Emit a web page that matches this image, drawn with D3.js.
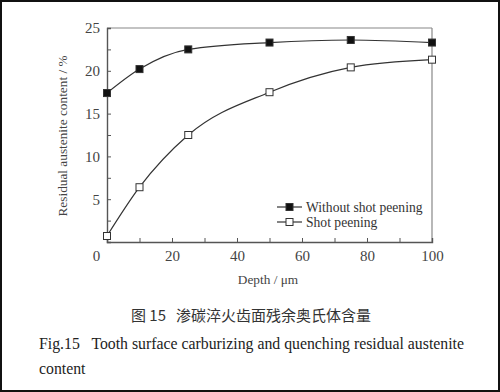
<!DOCTYPE html>
<html><head><meta charset="utf-8">
<script src="https://cdn.jsdelivr.net/npm/d3@7"></script>
<style>body{margin:0;background:#fff}svg{display:block}</style>
</head><body>
<script>
const depth = [0, 10, 25, 50, 75, 100];
const withoutShot = [17.4, 20.2, 22.5, 23.3, 23.6, 23.3];
const shotPeening = [0.7, 6.4, 12.5, 17.5, 20.4, 21.3];
const xTicks = [0, 20, 40, 60, 80, 100];
const yTicks = [5, 10, 15, 20, 25];
const seriesNames = ["Without shot peening", "Shot peening"];

const W = 500, H = 392;
const svg = d3.select("body").append("svg").attr("width", W).attr("height", H);
svg.append("rect").attr("x",1).attr("y",1).attr("width",W-2).attr("height",H-2)
  .attr("fill","#fff").attr("stroke","#111").attr("stroke-width",2);

const L = 107, R = 432, T = 28, B = 242;
const x = d3.scaleLinear().domain([0,100]).range([L,R]);
const y = d3.scaleLinear().domain([0,25]).range([B,T]);
const serif = "'Liberation Serif','Times New Roman',serif";

// frame top/right
svg.append("line").attr("x1",L).attr("x2",R).attr("y1",T).attr("y2",T).attr("stroke","#888").attr("stroke-width",1.2);
svg.append("line").attr("x1",R).attr("x2",R).attr("y1",T).attr("y2",B).attr("stroke","#888").attr("stroke-width",1.2);

// x axis
const xAxis = svg.append("g").attr("transform",`translate(0,${B})`)
  .call(d3.axisBottom(x).tickValues(d3.range(0,101,10)).tickSize(-4).tickFormat(d => xTicks.includes(d) ? d : ""));
xAxis.select(".domain").attr("stroke","#555").attr("stroke-width",1.4);
xAxis.selectAll(".tick line").attr("stroke","#555");
xAxis.selectAll(".tick text").attr("font-family",serif).attr("font-size",15).attr("fill","#444").attr("dy","1.05em")
  .attr("dx", d => d === 0 ? -11 : 0);

// y axis
const yAxis = svg.append("g").attr("transform",`translate(${L},0)`)
  .call(d3.axisLeft(y).tickValues(d3.range(0,25.1,2.5)).tickSize(-4).tickPadding(7).tickFormat(d => yTicks.includes(d) ? d : ""));
yAxis.select(".domain").attr("stroke","#555").attr("stroke-width",1.4);
yAxis.selectAll(".tick line").attr("stroke","#555");
yAxis.selectAll(".tick text").attr("font-family",serif).attr("font-size",15).attr("fill","#444");

// axis titles
svg.append("text").attr("transform",`translate(67,${(T+B)/2 + 1}) rotate(-90)`)
  .attr("text-anchor","middle").attr("font-family",serif).attr("font-size",13.3).attr("fill","#444")
  .text("Residual austenite content / %");
svg.append("text").attr("x",268).attr("y",284).attr("text-anchor","middle")
  .attr("font-family",serif).attr("font-size",13.3).attr("fill","#444").text("Depth / μm");

// lines
const line = d3.line().x(d => x(d[0])).y(d => y(d[1])).curve(d3.curveMonotoneX);
const series = [withoutShot, shotPeening];
series.forEach((vals, i) => {
  const pts = depth.map((d, j) => [d, vals[j]]);
  svg.append("path").attr("d", line(pts)).attr("fill","none").attr("stroke","#333").attr("stroke-width",1.2);
  svg.selectAll(null).data(pts).enter().append("rect")
    .attr("x", d => x(d[0]) - 3.5).attr("y", d => y(d[1]) - 3.5).attr("width",7).attr("height",7)
    .attr("fill", i === 0 ? "#111" : "#fff").attr("stroke","#333").attr("stroke-width",1);
});

// legend
seriesNames.forEach((name, i) => {
  const ly = 207 + i*15;
  svg.append("line").attr("x1",277).attr("x2",302).attr("y1",ly).attr("y2",ly).attr("stroke","#333").attr("stroke-width",1.2);
  svg.append("rect").attr("x",286).attr("y",ly-3.5).attr("width",7).attr("height",7)
    .attr("fill", i === 0 ? "#111" : "#fff").attr("stroke","#333");
  svg.append("text").attr("x",306).attr("y",ly+4.5).attr("font-family",serif).attr("font-size",13.6).attr("fill","#333").text(name);
});

// captions
svg.append("text").attr("x",251).attr("y",321).attr("text-anchor","middle")
  .attr("font-family","'Noto Sans CJK SC',serif").attr("font-size",15).attr("fill","#333")
  .attr("xml:space","preserve").text("图 15   渗碳淬火齿面残余奥氏体含量");
svg.append("text").attr("x",39).attr("y",349).attr("font-family",serif).attr("font-size",15.8).attr("fill","#222")
  .attr("xml:space","preserve").text("Fig.15   Tooth surface carburizing and quenching residual austenite");
svg.append("text").attr("x",39).attr("y",374).attr("font-family",serif).attr("font-size",15.8).attr("fill","#222").text("content");
</script>
</body></html>
